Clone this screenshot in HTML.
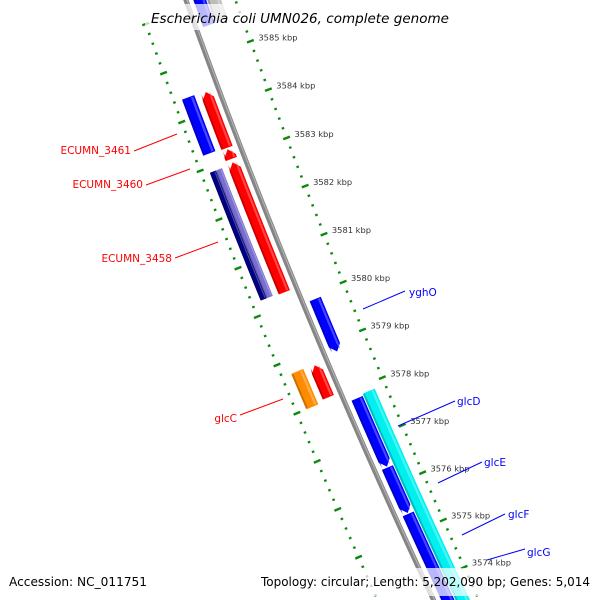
<!DOCTYPE html>
<html><head><meta charset="utf-8"><style>
html,body{margin:0;padding:0;background:#fff;overflow:hidden;}
svg{display:block;font-family:"DejaVu Sans","Liberation Sans",sans-serif;}
</style></head><body>
<svg id="map" width="600" height="600" viewBox="0 0 600 600" xmlns="http://www.w3.org/2000/svg">
<g id="rings"></g>
<g id="backbone"></g>
<g id="feats"></g>
<g id="labels"></g>
<rect x="145" y="4" width="312" height="26" fill="#fff" fill-opacity="0.72"/>
<text x="300" y="23" text-anchor="middle" font-size="13.5" font-style="italic" fill="#000" textLength="298" lengthAdjust="spacingAndGlyphs">Escherichia coli UMN026, complete genome</text>
<rect x="4" y="568" width="148" height="28" fill="#fff" fill-opacity="0.72"/>
<rect x="256" y="568" width="340" height="28" fill="#fff" fill-opacity="0.72"/>
<text x="9" y="586" font-size="12" fill="#000" textLength="138" lengthAdjust="spacingAndGlyphs">Accession: NC_011751</text>
<text x="261" y="586" font-size="12" fill="#000" textLength="329" lengthAdjust="spacingAndGlyphs">Topology: circular; Length: 5,202,090 bp; Genes: 5,014</text>
</svg>
<script>
// data
const tickStartKbp = 3573;
const tickEndKbp = 3586;
const featName  = ['top-blue','top-gray','ECUMN_3461','red-3462','red-small','ECUMN_3460','navy-3458','lavender-3458','yghO','glcC','red-glcC','glcD','glcE','glcF','glcG'];
const featStart = [3586.5, 3586.5, 3584.40, 3584.38, 3583.20, 3582.93, 3582.90, 3582.90, 3579.90, 3578.74, 3578.72, 3577.86, 3577.82, 3576.36, 3575.38];
const featEnd   = [3585.57,3585.57,3583.25, 3583.23, 3583.00, 3580.24, 3580.26, 3580.26, 3578.80, 3578.00, 3578.05, 3572.00, 3576.38, 3575.40, 3572.00];
const featT1    = [7, 20, -25, -7, -7, -7, -38, -31.5, 7, -25, -7, 20, 7, 7, 7];
const featT2    = [19, 33, -38, -19, -19, -19, -31.5, -25, 19, -38, -19, 33, 19, 19, 19];
const featColor = ['#0000ff','#bdbdbd','#0000ff','#ff0000','#ff0000','#ff0000','#000080','#7a6fd0','#0000ff','#ff8c00','#ff0000','#00f0f0','#0000ff','#0000ff','#0000ff'];
const featDir   = ['none','none','none','up','up','up','none','none','down','none','up','none','down','down','down'];

const CX=8086, CY=-2837, R=8394, A0=19.76, DEG=146.47;
const NS='http://www.w3.org/2000/svg';
function sOf(kbp){ return 60 + (3585 - kbp)*51.9; }
function P(s,t){ const a=(A0 + s/DEG)*Math.PI/180, r=R-t; return [CX - r*Math.cos(a), CY + r*Math.sin(a)]; }
// drift correction for the backbone/feature band (reference bends slightly more than tick rings)
function PB(s,t){ const k=s>0? 5*Math.pow(s/640,2):0; return P(s,t+k); }
function mk(tag,attrs,parent){ const e=document.createElementNS(NS,tag); for(const k in attrs) e.setAttribute(k,attrs[k]); parent.appendChild(e); return e; }
function pts(a){ return a.map(p=>p[0].toFixed(2)+','+p[1].toFixed(2)).join(' '); }

// rings
const rings=document.getElementById('rings');
const ringT=[46.5,-46];
for(let i=Math.round(tickStartKbp*5); i<=Math.round(tickEndKbp*5); i++){
  const kbp=i/5, s=sOf(kbp), major=(i%5===0);
  ringT.forEach((t,ri)=>{
    const len = major?3.6:1.3;
    const a=P(s,t-len), b=P(s,t+len);
    const ln=mk('line',{x1:a[0],y1:a[1],x2:b[0],y2:b[1],stroke:'#0a8a0a','stroke-width':major?2.4:2.2},rings);
    
    
  });
  if(major){
    const p=P(s,55);
    const tx=mk('text',{x:p[0].toFixed(1),y:(p[1]+2).toFixed(1),'font-size':'8.3',fill:'#333'},rings);
    tx.textContent=kbp+' kbp';
    
    
  }
}

// backbone
const bb=document.getElementById('backbone');
const bpts=[]; for(let s=-20;s<=700;s+=10) bpts.push(PB(s,0));
const bl=mk('polyline',{points:pts(bpts),fill:'none',stroke:'#858585','stroke-width':5},bb);


const hpts=[]; for(let s=-20;s<=700;s+=10) hpts.push(PB(s,1));
const hl=mk('polyline',{points:pts(hpts),fill:'none',stroke:'#b0b0b0','stroke-width':1.2},bb);



// features
const fg=document.getElementById('feats');
function shade(hex,f){ const n=parseInt(hex.slice(1),16); let r=n>>16,g=(n>>8)&255,b=n&255;
  const m=c=>Math.max(0,Math.min(255,Math.round(f>0? c+(255-c)*f : c*(1+f))));
  return 'rgb('+m(r)+','+m(g)+','+m(b)+')'; }
function band(s1,s2,t1,t2,dir){
  const head=7, poly=[];
  let a=s1,b=s2;
  if(dir==='up') a=s1+head;
  if(dir==='down') b=s2-head;
  const n=Math.max(1,Math.ceil((b-a)/10));
  for(let k=0;k<=n;k++) poly.push(PB(a+(b-a)*k/n,t1));
  if(dir==='down') poly.push(PB(s2,(t1+t2)/2));
  for(let k=n;k>=0;k--) poly.push(PB(a+(b-a)*k/n,t2));
  if(dir==='up') poly.push(PB(s1,(t1+t2)/2));
  return poly;
}
for(let i=0;i<featName.length;i++){
  const s1=sOf(featStart[i]), s2=sOf(featEnd[i]);
  const t1=featT1[i], t2=featT2[i];
  const g=mk('g',{},fg);
  
  
  mk('polygon',{points:pts(band(s1,s2,t1,t2,featDir[i])),fill:featColor[i]},g);
  const lo=Math.min(t1,t2), hi=Math.max(t1,t2), w=hi-lo;
  mk('polygon',{points:pts(band(s1+1,s2-1,hi-w*0.3,hi-w*0.12,featDir[i])),fill:shade(featColor[i],0.35),'fill-opacity':0.8},g);
  mk('polygon',{points:pts(band(s1+1,s2-1,lo,lo+w*0.15,featDir[i])),fill:shade(featColor[i],-0.3),'fill-opacity':0.7},g);
}

// gene labels (text + connector)
const lg=document.getElementById('labels');
const lblText=['ECUMN_3461','ECUMN_3460','ECUMN_3458','glcC','yghO','glcD','glcE','glcF','glcG'];
const lblColor=['#ff0000','#ff0000','#ff0000','#ff0000','#0000ff','#0000ff','#0000ff','#0000ff','#0000ff'];
const lblAnchor=['end','end','end','end','start','start','start','start','start'];
const lblTx=[131,143,172,237,409,457,484,508,527];
const lblTy=[154,188,262,422,296,405,466,518,556];
const lblLine=[[134,151,177,134],[146,185,190,169],[175,258,218,242],[240,415,283,399],[363,309,405,291],[398,426,455,401],[438,483,482,462],[462,535,505,514],[487,560,525,549]];
for(let i=0;i<lblText.length;i++){
  const L=lblLine[i];
  const ln=mk('line',{x1:L[0],y1:L[1],x2:L[2],y2:L[3],stroke:lblColor[i],'stroke-width':1},lg);
  
  
  const tx=mk('text',{x:lblTx[i],y:lblTy[i],'text-anchor':lblAnchor[i],'font-size':'10.5',fill:lblColor[i]},lg);
  tx.textContent=lblText[i];
  
  
}
</script>
</body></html>
